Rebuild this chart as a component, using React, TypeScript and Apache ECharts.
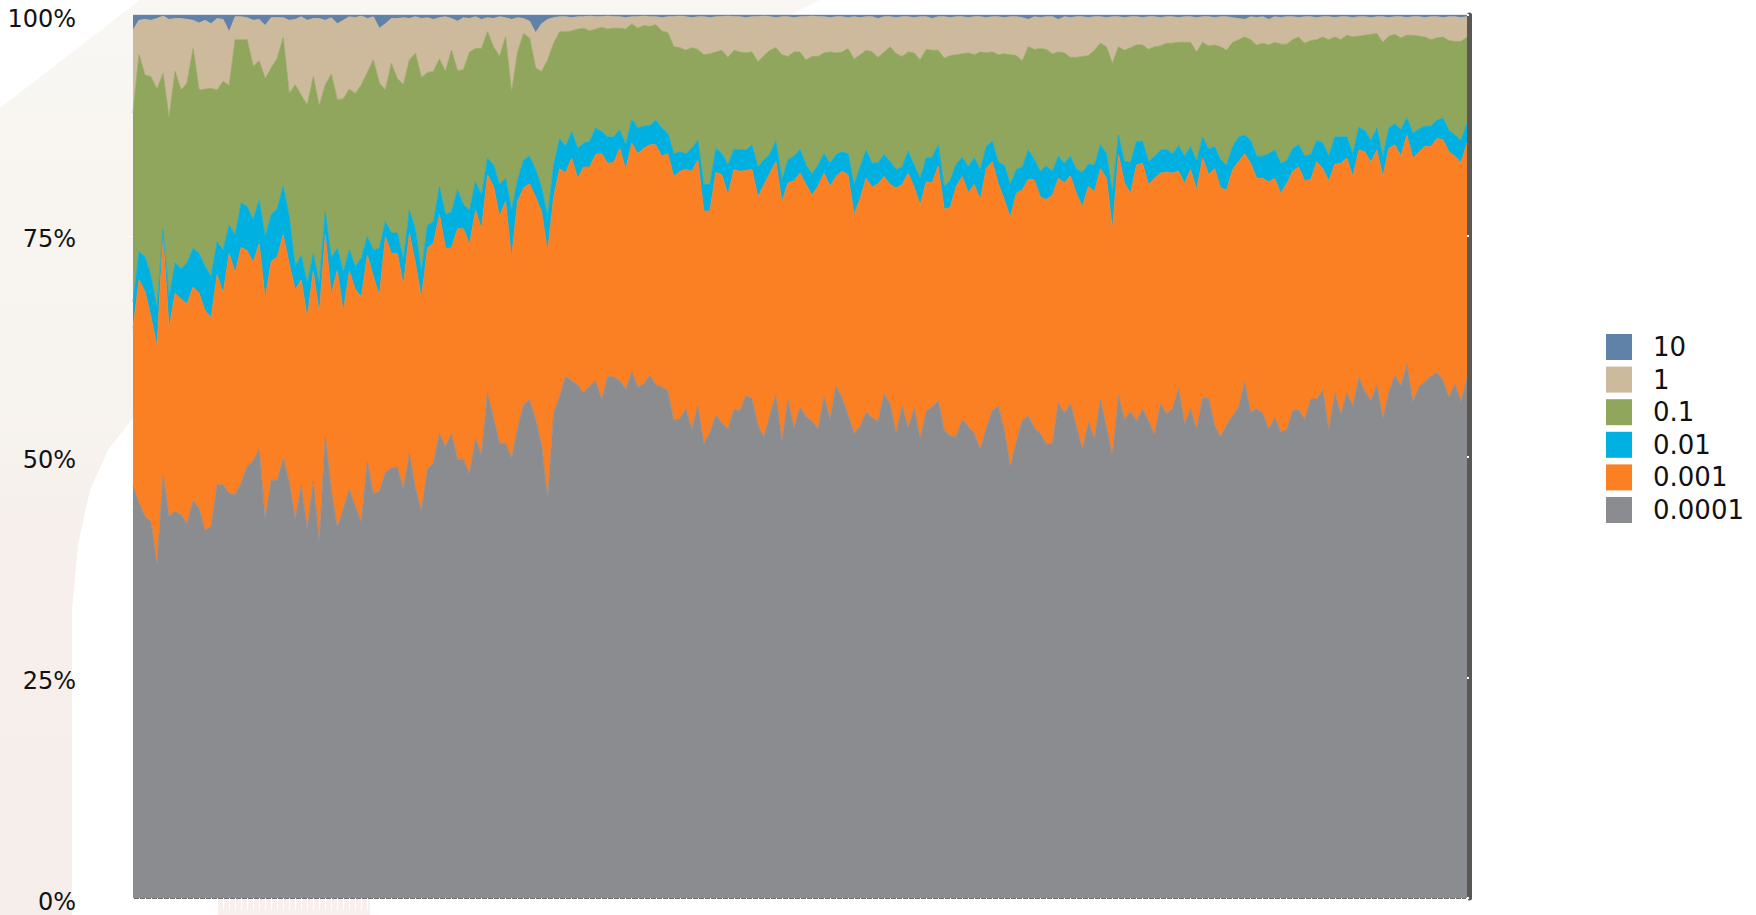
import React, { useEffect, useRef } from "react";
import * as echarts from "echarts";

// Legend / series names (top of legend to bottom)
const seriesNames = ["10", "1", "0.1", "0.01", "0.001", "0.0001"];
const seriesColors: Record<string, string> = {
  "10": "#6182a8",
  "1": "#cdb99c",
  "0.1": "#8fa65c",
  "0.01": "#00b0e0",
  "0.001": "#fb7f23",
  "0.0001": "#8b8c90",
};

const yTickValues = [0, 25, 50, 75, 100];

// Cumulative upper edge (in %) of each band, one value per period.
// Upper edge of the "0.0001" band
const top_0p0001 = [
  46.6, 44.7, 43.2, 42.6, 37.7, 47.9, 43.2, 43.8, 43.4, 42.4,
  45.0, 44.1, 41.6, 42.1, 46.8, 46.8, 45.8, 45.7, 47.0, 48.9,
  49.5, 50.8, 42.8, 47.3, 47.3, 49.8, 47.1, 42.9, 46.7, 41.8,
  47.2, 40.3, 52.2, 46.2, 41.9, 44.1, 46.3, 44.3, 42.6, 49.4,
  45.8, 46.0, 48.2, 48.7, 48.8, 46.3, 50.3, 46.4, 43.8, 48.6,
  49.3, 52.6, 51.1, 52.6, 49.7, 49.7, 48.0, 52.0, 50.2, 57.2,
  54.3, 51.5, 51.5, 49.8, 53.2, 55.9, 56.4, 54.2, 51.3, 45.1,
  54.9, 56.8, 59.1, 58.6, 58.1, 57.2,
  58.0, 58.6, 56.4, 59.1, 59.0, 58.6, 57.6, 59.6, 57.9,
  58.2, 59.2, 58.1, 57.9, 57.4, 54.1, 54.3, 55.4, 53.1, 55.7,
  51.4, 52.7, 54.7, 53.8, 53.1, 55.3, 55.2, 56.9, 56.6, 53.5,
  52.2, 54.7, 56.9, 51.7, 56.4, 53.2, 55.6, 54.5, 54.0, 53.1,
  56.8, 54.2, 58.0, 56.6, 54.7, 52.6, 53.4, 55.0, 54.4, 54.0,
  57.1, 55.9, 52.6, 55.7, 53.2, 55.5, 52.0, 55.1, 55.6, 56.3,
  53.0, 52.3, 52.3, 54.2, 53.4, 52.6, 50.8, 53.2, 55.2, 55.7,
  53.0, 48.8, 51.7, 54.1, 54.6, 53.2,
  52.6, 51.4, 51.5, 56.1, 54.9, 56.0, 53.4, 50.8, 53.9,
  52.0, 56.5, 53.3, 50.1, 56.8, 54.2, 55.1, 54.0, 55.4, 54.0,
  52.5, 56.0, 54.8, 55.4, 57.7, 53.7, 55.4, 53.1, 56.6, 56.6,
  53.5, 52.2, 53.6, 54.6, 55.6, 58.4, 55.0, 55.4, 54.9, 53.1,
  54.4, 52.8, 53.0, 55.2, 55.3, 54.2, 56.5, 56.5, 57.5, 53.0,
  57.2, 54.8, 57.2, 55.7, 58.9, 57.4, 56.3, 58.1, 54.3, 57.3,
  59.2, 58.0, 60.4, 56.2, 57.9, 58.5, 59.1, 59.5, 58.6, 56.7,
  58.2, 56.2, 58.9,
];

// Upper edge of the "0.001" band
const top_0p001 = [
  64.5, 70.0, 68.7, 65.8, 62.5, 75.2, 64.5, 68.5, 67.8, 67.3,
  69.2, 68.5, 66.5, 65.7, 70.6, 68.5, 73.0, 70.8, 73.7, 73.3,
  72.0, 74.1, 67.9, 72.1, 72.6, 75.1, 71.8, 68.9, 70.0, 65.7,
  71.0, 66.2, 75.1, 68.4, 71.1, 66.4, 71.0, 68.9, 68.1, 72.8,
  70.4, 68.2, 74.9, 73.0, 73.0,
  69.4, 75.3, 71.9, 67.9, 73.6, 74.2, 77.4, 73.6, 73.6, 75.8,
  75.8, 74.0, 77.9, 75.8, 81.9, 80.6, 77.2, 78.9, 72.5, 78.9,
  80.4, 80.9, 79.4, 77.7, 73.2, 79.4, 82.6, 82.1, 83.8, 81.5,
  82.8, 82.8, 84.2, 84.3, 83.2, 83.3, 84.9, 82.5, 85.5, 84.3,
  84.9, 85.3, 85.3, 84.0, 84.3, 81.7, 82.3, 82.5, 82.3, 83.6,
  77.8, 77.8, 82.2, 81.9, 79.6, 82.5, 82.3, 82.4, 82.5, 79.4,
  80.8, 82.1, 83.4, 78.8, 81.0, 81.2, 82.1, 80.8, 79.6, 80.6,
  82.1, 80.6, 81.7, 82.3, 81.9,
  77.4, 79.2, 81.5, 80.5, 80.9, 81.7, 80.8, 80.4, 80.8, 82.1,
  80.5, 78.5, 81.1, 81.0, 82.9, 78.0, 78.2, 80.6, 81.7, 79.9,
  80.8, 79.1, 82.6, 83.4, 80.9, 79.1, 77.1, 79.8, 80.2, 81.4,
  81.3, 79.4, 79.1, 79.6, 81.5, 81.0, 81.8, 79.8, 78.3, 80.6,
  80.0, 82.6, 81.5, 75.7, 84.2, 81.0, 79.8, 83.0, 83.2, 80.8,
  81.5, 82.1, 82.2, 82.1, 82.3, 80.9, 82.5, 80.2, 83.8, 81.9,
  82.6, 80.4, 80.2, 82.5, 83.4, 84.3, 83.2, 81.5, 81.5, 81.1,
  81.5, 79.8, 80.9, 82.3, 82.8,
  81.2, 81.4, 83.4, 82.6, 81.2, 83.1, 83.2, 83.8, 81.7, 84.7,
  84.5, 83.3, 84.7, 81.7, 84.9, 85.3, 84.0, 86.4, 83.8, 84.5,
  85.1, 85.1, 86.0, 85.9, 84.5, 84.0, 83.3, 85.5,
];

// Upper edge of the "0.01" band
const top_0p01 = [
  67.5, 73.2, 72.6, 70.4, 66.8, 75.7, 68.0, 71.9, 71.3, 71.9,
  73.6, 73.0, 71.5, 70.4, 74.3, 73.4, 76.2, 75.1, 78.7, 78.3,
  76.8, 79.1, 74.9, 77.4, 78.1, 80.6, 77.2, 71.5, 72.8, 69.6,
  73.0, 69.6, 77.7, 72.5, 73.6, 70.9, 73.4, 71.5, 72.5, 74.9,
  73.4, 73.6, 76.6, 75.3, 75.3,
  72.3, 77.9, 75.7, 70.9, 76.2, 76.6, 80.6, 77.4, 77.7, 80.2,
  78.5, 77.9, 81.1, 79.6, 83.8, 83.0, 80.8, 81.5, 77.9, 81.3,
  83.6, 84.0, 82.5, 80.4, 77.2, 83.0, 86.0, 85.1, 86.8, 84.9,
  85.5, 85.7, 87.2, 86.8, 86.2, 86.2, 87.0, 85.3, 88.2, 87.2,
  87.4, 87.5, 88.1, 87.2, 86.6, 84.3, 84.5, 84.3, 84.9, 85.8,
  80.8, 80.8, 84.9, 84.3, 83.0, 84.8, 84.7, 84.7, 85.3, 82.8,
  83.6, 84.3, 85.7, 81.3, 83.6, 84.0, 84.8, 83.0, 82.0, 83.0,
  84.3, 83.2, 84.2, 84.5, 84.3,
  80.8, 82.8, 84.7, 83.2, 83.3, 84.2, 83.4, 82.5, 82.8, 84.6,
  83.0, 81.5, 83.8, 83.9, 85.3, 80.6, 81.3, 83.1, 83.9, 82.8,
  83.8, 82.5, 85.1, 85.7, 83.3, 83.0, 80.8, 82.5, 82.8, 84.7,
  83.6, 82.3, 82.9, 82.3, 84.0, 83.2, 84.0, 82.5, 82.2, 83.1,
  83.0, 85.3, 84.3, 79.8, 86.4, 83.4, 83.3, 85.7, 85.7, 83.4,
  84.0, 84.7, 84.8, 84.3, 85.2, 84.0, 85.1, 83.4, 86.2, 84.8,
  85.1, 83.6, 83.0, 85.1, 86.2, 86.4, 85.8, 84.0, 84.0, 84.3,
  84.7, 83.2, 83.5, 84.9, 85.3,
  84.0, 84.2, 85.8, 85.5, 84.0, 86.2, 86.2, 86.2, 84.3, 87.3,
  86.9, 85.8, 87.2, 84.0, 87.2, 87.7, 87.0, 88.4, 86.6, 87.1,
  87.4, 87.4, 88.1, 88.3, 86.9, 86.4, 85.8, 87.7,
];

// Upper edge of the "0.1" band
const top_0p1 = [
  88.9, 95.5, 93.2, 93.0, 91.6, 93.4, 88.3, 93.6, 91.5, 92.3,
  96.2, 91.5, 91.6, 91.7, 91.5, 92.5, 92.0, 97.2, 97.2, 97.2,
  94.2, 94.8, 92.8, 94.0, 95.1, 97.4, 91.1, 92.1, 90.9, 89.8,
  93.0, 89.7, 92.1, 93.3, 90.4, 90.5, 91.6, 91.1, 92.1, 93.5,
  94.9, 92.3, 91.5, 94.5, 92.8,
  92.1, 94.9, 95.7, 92.9, 93.5, 93.6, 95.0, 93.6, 96.0, 93.7,
  93.8, 95.8, 96.2, 96.2, 98.1, 96.4, 95.3, 97.5, 91.2, 95.8,
  97.9, 97.4, 94.0, 93.6, 94.9, 96.8, 98.1, 98.1, 98.2, 98.4,
  98.5, 98.2, 98.4, 98.6, 98.4, 98.5, 98.5, 98.4, 99.0, 98.5,
  98.8, 98.7, 98.9, 98.2, 98.0, 96.4, 96.3, 96.0, 96.3, 96.1,
  95.5, 95.6, 95.8, 96.0, 95.2, 96.0, 95.8, 95.7, 95.8, 94.7,
  95.4, 96.0, 96.3, 95.5, 95.3, 95.8, 95.8, 94.9, 95.3, 95.3,
  95.7, 95.8, 95.7, 95.8, 96.2,
  95.0, 95.5, 96.0, 95.8, 95.2, 95.8, 96.4, 95.6, 95.3, 95.8,
  95.7, 94.9, 96.1, 96.0, 96.0, 95.1, 95.4, 95.5, 95.6, 95.7,
  95.5, 95.8, 95.7, 95.8, 95.5, 95.6, 95.5, 95.4, 94.8, 96.4,
  96.1, 96.2, 96.1, 95.6, 95.8, 95.7, 95.2, 95.2, 95.3, 95.4,
  96.0, 96.8, 96.4, 94.5, 96.4, 96.0, 96.3, 96.6, 96.6, 96.1,
  96.4, 96.5, 96.8, 96.8, 96.9, 96.9, 96.9, 95.8, 96.9, 96.5,
  96.6, 96.4, 96.0, 96.9, 97.2, 97.5, 97.2, 96.6, 96.8, 96.6,
  96.9, 96.7, 96.7, 97.2, 97.5,
  96.8, 97.1, 97.2, 97.5, 97.2, 97.5, 97.2, 97.7, 97.5, 97.6,
  97.7, 97.8, 97.9, 96.9, 97.6, 97.8, 97.4, 97.7, 97.7, 97.6,
  97.5, 97.2, 97.4, 97.5, 97.1, 97.0, 97.0, 97.5,
];

// Upper edge of the "1" band (above it: the "10" band up to 100%)
const top_1 = [
  98.3, 99.4, 99.5, 99.4, 99.6, 99.9, 99.5, 99.6, 99.6, 99.5,
  99.4, 99.1, 99.4, 99.0, 99.6, 99.5, 98.1, 99.8, 99.8, 99.7,
  99.4, 99.5, 98.8, 99.7, 99.7, 99.7, 99.4, 99.5, 99.8, 99.4,
  99.6, 99.6, 99.4, 99.7, 99.0, 99.4, 99.8, 99.7, 99.9, 99.6,
  99.8, 98.5, 99.0, 99.6, 99.6,
  99.7, 99.6, 99.8, 99.6, 99.7, 99.5, 99.7, 99.8, 99.6, 99.3,
  99.7, 99.6, 99.8, 99.5, 99.7, 99.6, 99.8, 99.7, 99.5, 99.7,
  99.6, 99.3, 98.0, 99.0, 99.5, 99.7, 99.8, 99.8, 99.7, 99.8,
  99.8, 99.9, 99.8, 99.8, 99.9, 99.8, 99.8, 99.7, 99.8, 99.8,
  99.9, 99.8, 99.8, 99.7, 99.8, 99.8, 99.9, 99.8, 99.7, 99.8,
  99.8, 99.7, 99.8, 99.8, 99.9, 99.8, 99.8, 99.7, 99.8, 99.8,
  99.9, 99.8, 99.7, 99.8, 99.8, 99.7, 99.8, 99.8, 99.9, 99.8,
  99.8, 99.7, 99.8, 99.8, 99.7,
  99.8, 99.7, 99.8, 99.8, 99.6, 99.8, 99.8, 99.7, 99.8, 99.8,
  99.7, 99.8, 99.8, 99.6, 99.8, 99.8, 99.7, 99.8, 99.8, 99.7,
  99.8, 99.8, 99.7, 99.8, 99.8, 99.7, 99.8, 99.8, 99.7, 99.5,
  99.8, 99.7, 99.8, 99.8, 99.5, 99.8, 99.7, 99.8, 99.8, 99.7,
  99.8, 99.8, 99.7, 99.8, 99.8, 99.7, 99.8, 99.8, 99.7, 99.8,
  99.8, 99.7, 99.8, 99.8, 99.7, 99.8, 99.8, 99.7, 99.8, 99.8,
  99.7, 99.8, 99.8, 99.7, 99.6, 99.5, 99.8, 99.7, 99.8, 99.5,
  99.8, 99.7, 99.8, 99.8, 99.7,
  99.8, 99.8, 99.7, 99.8, 99.8, 99.7, 99.8, 99.8, 99.7, 99.8,
  99.8, 99.7, 99.8, 99.8, 99.7, 99.8, 99.8, 99.7, 99.8, 99.8,
  99.7, 99.8, 99.8, 99.7, 99.8, 99.8, 99.7, 99.8,
];

const periods = top_0p0001.map((_, i) => String(i + 1));

const r2 = (v: number) => Math.round(v * 100) / 100;

export default function App() {
  const ref = useRef<HTMLDivElement>(null);

  useEffect(() => {
    if (!ref.current) return;
    const chart = echarts.init(ref.current, undefined, { renderer: "svg" });

    // band thickness of each series (100% stacked)
    const bands: Record<string, number[]> = {
      "0.0001": top_0p0001.map((v) => r2(v)),
      "0.001": top_0p001.map((v, i) => r2(v - top_0p0001[i])),
      "0.01": top_0p01.map((v, i) => r2(v - top_0p001[i])),
      "0.1": top_0p1.map((v, i) => r2(v - top_0p01[i])),
      "1": top_1.map((v, i) => r2(v - top_0p1[i])),
      "10": top_1.map((v) => r2(100 - v)),
    };

    const stackOrder = ["0.0001", "0.001", "0.01", "0.1", "1", "10"];
    const font = "'DejaVu Sans', Verdana, sans-serif";

    const option: any = {
      animation: false,
      backgroundColor: "#ffffff",
      graphic: [
        {
          type: "polygon",
          z: -10,
          silent: true,
          shape: {
            points: [
              [0, 108], [140, 0], [820, 0], [790, 15], [133, 15], [133, 418],
              [108, 450], [90, 490], [78, 545], [72, 610], [72, 915], [0, 915],
            ],
          },
          style: {
            fill: new echarts.graphic.LinearGradient(0, 0, 0, 1, [
              { offset: 0, color: "#f9f7f3" },
              { offset: 0.45, color: "#f7f3ee" },
              { offset: 0.6, color: "#f6efec" },
              { offset: 1, color: "#f5eeeb" },
            ]),
          },
        },
        {
          type: "rect",
          z: -10,
          silent: true,
          shape: { x: 218, y: 898, width: 152, height: 17 },
          style: { fill: "#f7f0ee" },
        },
      ],
      grid: { left: 133, right: 289, top: 15, bottom: 17, containLabel: false },
      legend: {
        orient: "vertical",
        left: 1606,
        top: 334,
        padding: 0,
        data: seriesNames,
        icon: "rect",
        itemWidth: 26,
        itemHeight: 26,
        itemGap: 6.6,
        selectedMode: false,
        textStyle: {
          fontSize: 26,
          color: "#111111",
          fontFamily: font,
          padding: [0, 0, 0, 16],
        },
      },
      xAxis: [
        {
          type: "category",
          data: periods,
          boundaryGap: false,
          axisLine: { show: false },
          axisLabel: { show: false },
          axisTick: { show: true, interval: 0, length: 12, lineStyle: { color: "#ffffff" } },
          splitLine: { show: false },
        },
        {
          type: "category",
          position: "top",
          data: periods,
          boundaryGap: false,
          axisLine: { show: true, lineStyle: { color: "#707070", width: 1 } },
          axisLabel: { show: false },
          axisTick: { show: false },
          splitLine: { show: false },
        },
      ],
      yAxis: [
        {
          type: "value",
          min: yTickValues[0],
          max: yTickValues[yTickValues.length - 1],
          interval: 25,
          position: "left",
          axisLine: { show: false },
          axisTick: { show: true, length: 5, lineStyle: { color: "#ffffff" } },
          splitLine: { show: false },
          axisLabel: {
            formatter: "{v|{value}%}",
            margin: 57,
            rich: {
              v: {
                fontSize: 24,
                color: "#111111",
                fontFamily: font,
                padding: [7, 0, 0, 0],
              },
            },
          },
        },
        {
          type: "value",
          min: yTickValues[0],
          max: yTickValues[yTickValues.length - 1],
          interval: 25,
          position: "right",
          offset: 2,
          axisLine: { show: true, lineStyle: { color: "#5a5853", width: 5 } },
          axisTick: { show: true, length: 3, inside: true, lineStyle: { color: "#ffffff", width: 2 } },
          axisLabel: { show: false },
          splitLine: { show: false },
        },
      ],
      series: stackOrder.map((name) => ({
        name,
        type: "line",
        stack: "total",
        data: bands[name],
        xAxisIndex: 0,
        yAxisIndex: 0,
        symbol: "none",
        showSymbol: false,
        smooth: false,
        itemStyle: { color: seriesColors[name] },
        lineStyle: { width: 0.8, color: seriesColors[name] },
        areaStyle: { color: seriesColors[name], opacity: 1 },
        emphasis: { disabled: true },
        silent: true,
      })),
    };

    chart.setOption(option);
    return () => chart.dispose();
  }, []);

  return (
    <div
      ref={ref}
      style={{ position: "absolute", left: 0, top: 0, width: 1756, height: 915 }}
    />
  );
}
